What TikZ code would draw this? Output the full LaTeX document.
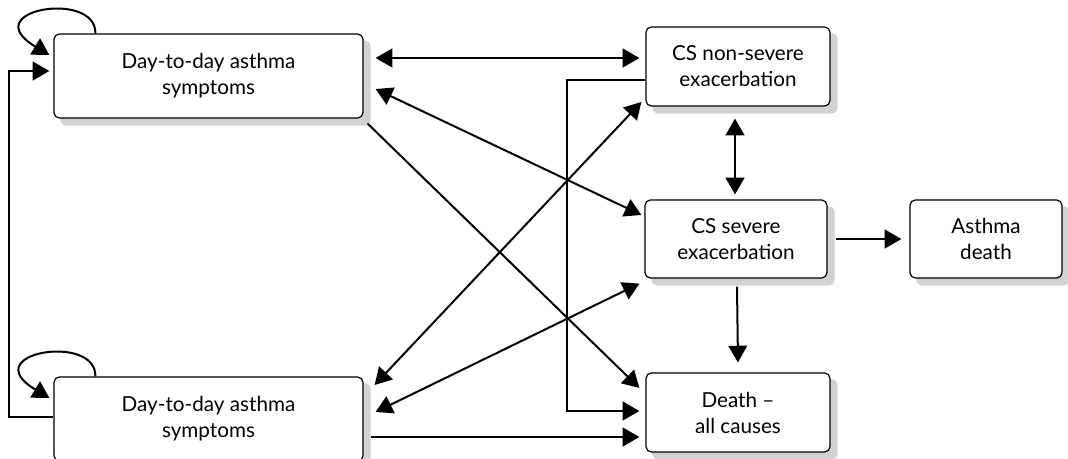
\documentclass[tikz,border=0pt]{standalone}
\usepackage{fontspec}
\setmainfont{Lato}
\usetikzlibrary{arrows.meta,calc,backgrounds}

\begin{document}
\begin{tikzpicture}[x=0.75pt,y=0.75pt,yscale=-1,xscale=1,
  state/.style={draw, line width=0.9pt, rounded corners=4pt, fill=white, align=center, inner sep=0pt,
    font=\fontsize{15.5}{19.5}\selectfont},
  shadowbox/.style={fill={rgb,255:red,210;green,210;blue,210}, rounded corners=4pt},
  link/.style={line width=1.5pt, -{Triangle[length=12.5pt,width=14pt]}},
  twoway/.style={line width=1.5pt, {Triangle[length=12.5pt,width=14pt]}-{Triangle[length=12.5pt,width=14pt]}}]
\useasboundingbox (0,0) rectangle (1068,459);

%Shape: states
\node[state, minimum width=231.75pt, minimum height=63pt] (symTop) at (208.5,76) {Day-to-day asthma\\symptoms};
\node[state, minimum width=231.75pt, minimum height=63pt] (symBot) at (208.5,419) {Day-to-day asthma\\symptoms};
\node[state, minimum width=138pt, minimum height=59.25pt] (nonSevere) at (738,66.5) {CS non-severe\\exacerbation};
\node[state, minimum width=136.5pt, minimum height=58.5pt] (severe) at (736,239) {CS severe\\exacerbation};
\node[state, minimum width=114pt, minimum height=58.5pt] (asthmaDeath) at (986,239) {Asthma\\death};
\node[state, minimum width=138pt, minimum height=59.25pt] (deathAll) at (738,412.5) {Death --\\all causes};

%Shape: grey shadows behind the states
\begin{scope}[on background layer]
\foreach \s in {symTop,symBot,nonSevere,severe,asthmaDeath,deathAll}
  \fill[shadowbox] ($(\s.north west)+(7,7)$) rectangle ($(\s.south east)+(7,7)$);
\end{scope}

%Shape: self loops
\draw[link] ($(symTop.north west)+(42,0)$) .. controls +(1,-44) and +(-75,-45) .. ($(symTop.west)+(-4,-21)$);
\draw[link] ($(symBot.north west)+(42,0)$) .. controls +(1,-44) and +(-75,-45) .. ($(symBot.west)+(-4,-21)$);
\draw[link] ($(symBot.west)+(0,-2)$) -- ++(-44,0) |- ($(symTop.west)+(-4,-5)$);

%Shape: transitions
\draw[twoway] ($(symTop.east)+(12,-18)$) -- ($(nonSevere.west)+(-6,-8.5)$);
\draw[twoway] ($(symTop.east)+(12,13)$) -- ($(severe.west)+(-3,-24)$);
\draw[link] ($(symTop.south east)+(4,5)$) -- ($(deathAll.west)+(-6,-24.5)$);
\draw[twoway] ($(symBot.east)+(11,-34)$) -- ($(nonSevere.west)+(-4,35.5)$);
\draw[twoway] ($(symBot.east)+(12,-7)$) -- ($(severe.south west)+(-5,5)$);
\draw[link] ($(symBot.east)+(7,18)$) -- ($(deathAll.west)+(-6,24.5)$);
\draw[link] ($(nonSevere.west)+(0,13.5)$) -- ++(-78,0) |- ($(deathAll.west)+(-6,-1.5)$);
\draw[twoway] ($(nonSevere.south)+(-3,12)$) -- ($(severe.north)+(-1,-5)$);
\draw[link] ($(severe.east)+(8,0)$) -- ($(asthmaDeath.west)+(-8,0)$);
\draw[link] ($(severe.south)+(1,8)$) -- ($(deathAll.north)+(0,-10)$);

\end{tikzpicture}
\end{document}
